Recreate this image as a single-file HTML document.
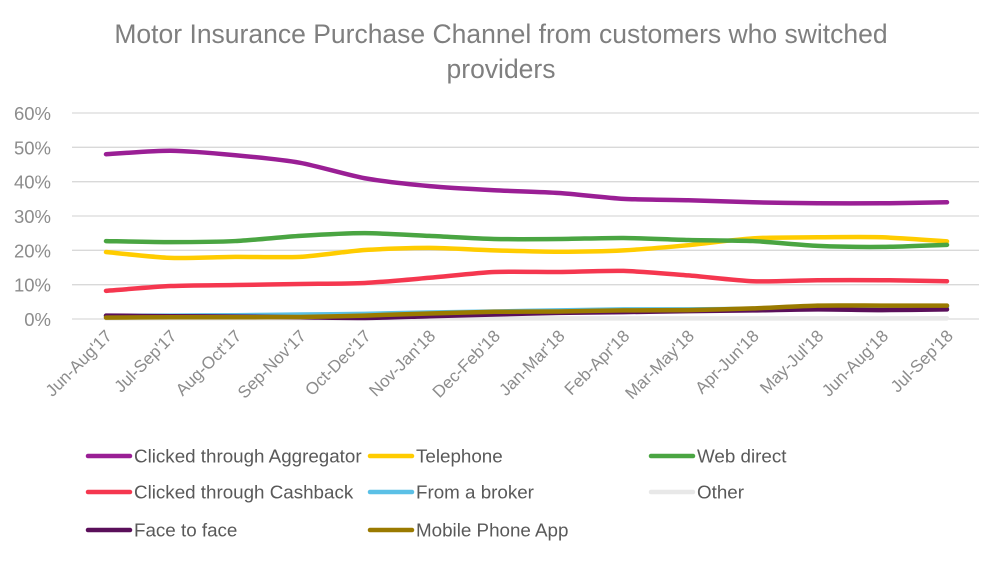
<!DOCTYPE html>
<html><head><meta charset="utf-8"><style>
body{margin:0;background:#fff;font-family:"Liberation Sans",sans-serif}
svg text{font-family:"Liberation Sans",sans-serif}
</style></head><body>
<svg id="c" width="1002" height="559" xmlns="http://www.w3.org/2000/svg">
<rect width="1002" height="559" fill="#fff"/>
<text x="501" y="43" text-anchor="middle" font-size="26.5" fill="#7f7f7f">Motor Insurance Purchase Channel from customers who switched</text>
<text x="501" y="78" text-anchor="middle" font-size="26.5" fill="#7f7f7f">providers</text>
<g id="grid"></g><g id="lines"></g><g id="xl"></g><g id="legend"></g>
</svg>
<script>
const categories=["Jun-Aug'17","Jul-Sep'17","Aug-Oct'17","Sep-Nov'17","Oct-Dec'17","Nov-Jan'18","Dec-Feb'18","Jan-Mar'18","Feb-Apr'18","Mar-May'18","Apr-Jun'18","May-Jul'18","Jun-Aug'18","Jul-Sep'18"];
const yTicks=[0,10,20,30,40,50,60];
const seriesNames=["Clicked through Aggregator","Telephone","Web direct","Clicked through Cashback","From a broker","Other","Face to face","Mobile Phone App"];
const seriesColors=["#9a1f95","#ffcc00","#4aa542","#f5374f","#5bc0e6","#e8e8e8","#5a0f5a","#9a7a00"];
const aggregator=[48,49,47.7,45.5,41,38.7,37.5,36.7,35,34.6,34,33.7,33.7,34];
const telephone=[19.5,17.8,18.1,18.1,20.1,20.7,20,19.6,20,21.5,23.5,23.8,23.8,22.6];
const webDirect=[22.7,22.4,22.7,24.2,25,24.2,23.3,23.3,23.6,23,22.7,21.3,21,21.6];
const cashback=[8.2,9.6,9.9,10.2,10.5,12,13.7,13.7,14,12.7,11,11.3,11.3,11];
const broker=[0.9,1,1.1,1.3,1.5,1.9,2.2,2.5,2.8,2.8,3,3.5,3.5,3.6];
const other=[0.2,0.2,0.2,0.2,0.2,0.2,0.2,0.2,0.2,0.2,0.2,0.2,0.2,0.2];
const faceToFace=[1,0.8,0.7,0.5,0.3,0.8,1.3,1.8,2,2.3,2.5,2.8,2.6,2.8];
const mobileApp=[0.4,0.5,0.5,0.6,1,1.6,2.1,2.2,2.5,2.6,3.1,3.9,3.9,3.9];
const drawOrder=[other,broker,faceToFace,mobileApp,cashback,telephone,webDirect,aggregator];
const drawIdx=[5,4,6,7,3,1,2,0];
const NS="http://www.w3.org/2000/svg";
const X0=106,X1=947,Y0=319,Y60=113;
const xs=i=>X0+(X1-X0)*i/(categories.length-1);
const ys=v=>Y0-(Y0-Y60)*v/60;
function mk(t,a,p){const e=document.createElementNS(NS,t);for(const k in a)e.setAttribute(k,a[k]);p.appendChild(e);return e;}
const grid=document.getElementById('grid');
yTicks.forEach(t=>{
 const l=mk('line',{x1:72,x2:979,y1:ys(t),y2:ys(t),stroke:'#d9d9d9','stroke-width':1.3},grid);
 
 
 const tx=mk('text',{x:51,y:ys(t)+7,'text-anchor':'end','font-size':18.5,fill:'#8c8c8c'},grid);
 tx.textContent=t+'%';
 
 
});
const xl=document.getElementById('xl');
categories.forEach((c,i)=>{
 const tx=mk('text',{x:xs(i)+7,y:337,'text-anchor':'end','font-size':17,fill:'#8c8c8c',transform:`rotate(-45 ${xs(i)+7} 337)`},xl);
 tx.textContent=c;
 
 
});
function smooth(vals){
 const p=vals.map((v,i)=>[xs(i),ys(v)]);
 let d=`M${p[0][0]},${p[0][1]}`;
 for(let i=0;i<p.length-1;i++){
  const p0=p[Math.max(i-1,0)],p1=p[i],p2=p[i+1],p3=p[Math.min(i+2,p.length-1)];
  const c1=[p1[0]+(p2[0]-p0[0])/8,p1[1]+(p2[1]-p0[1])/8];
  const c2=[p2[0]-(p3[0]-p1[0])/8,p2[1]-(p3[1]-p1[1])/8];
  d+=` C${c1[0]},${c1[1]} ${c2[0]},${c2[1]} ${p2[0]},${p2[1]}`;
 }
 return d;
}
const lines=document.getElementById('lines');
drawOrder.forEach((vals,k)=>{
 const i=drawIdx[k];
 const path=mk('path',{d:smooth(vals),fill:'none',stroke:seriesColors[i],'stroke-width':4.5,'stroke-linecap':'round','stroke-linejoin':'round'},lines);
 
 
});
const lg=document.getElementById('legend');
const colX=[88,370,651],rowY=[456,492,530];
seriesNames.forEach((n,i)=>{
 const cx=colX[i%3],cy=rowY[Math.floor(i/3)];
 const g=mk('g',{},lg);
 
 
 mk('line',{x1:cx,x2:cx+42,y1:cy,y2:cy,stroke:seriesColors[i],'stroke-width':4.5,'stroke-linecap':'round'},g);
 const t=mk('text',{x:cx+46,y:cy+6.5,'font-size':18.8,fill:'#595959'},g);
 t.textContent=n;
});
</script>
</body></html>
